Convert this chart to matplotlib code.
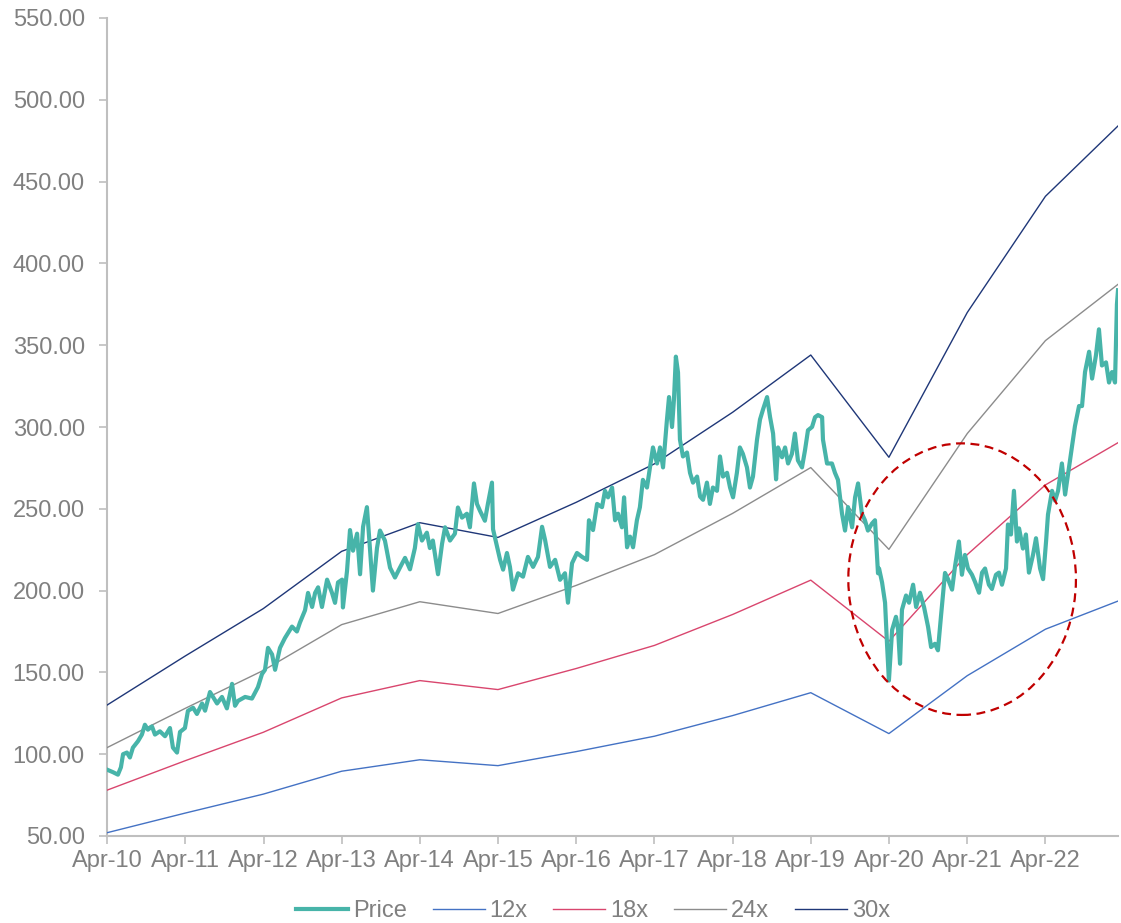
import numpy as np
import pandas as pd
import matplotlib
matplotlib.use("Agg")
import matplotlib.pyplot as plt
import matplotlib.dates as mdates
from matplotlib.patches import Ellipse

# ---------------- data ----------------
# months after 1 Apr 2010 / price values
price_months = [0.1, 0.92, 1.69, 2.15, 2.46, 3.07, 3.53, 3.99, 4.76, 5.37, 5.83, 6.29, 6.91, 7.37,
    8.13, 8.9, 9.67, 10.13, 10.74, 11.2, 11.97, 12.43, 13.2, 13.81, 14.58, 15.04, 15.81, 16.27,
    16.88, 17.65, 18.41, 19.18, 19.64, 20.1, 21.18, 22.25, 23.17, 23.78, 24.24, 24.7, 25.32,
    25.78, 26.54, 27.31, 28.38, 29.15, 29.61, 30.38, 30.84, 31.46, 31.92, 32.38, 32.99, 33.76,
    34.53, 34.99, 35.45, 36.06,
    36.21, 36.83, 37.29, 37.75, 38.36, 38.82, 39.28, 39.9, 40.36, 40.82, 41.43, 41.89, 42.66,
    43.43, 44.19, 44.96, 45.73, 46.5, 47.26, 47.72, 48.34, 49.1, 49.56, 50.02, 50.79, 51.41,
    51.87, 52.63, 53.4, 53.86, 54.47, 55.24, 55.7, 56.32, 56.78, 57.24, 58.0, 58.46, 59.08,
    59.23, 59.85, 60.31, 60.77, 61.38, 61.84, 62.3, 63.07, 63.84, 64.6, 65.37, 66.14, 66.75,
    67.21, 67.98, 68.75, 69.51, 70.28, 70.74, 71.35, 72.12, 72.89, 73.66, 73.96, 74.58, 75.19,
    75.96, 76.42, 76.88,
    77.49, 77.95, 78.41, 79.03, 79.33, 79.79, 80.25, 80.71, 81.33, 81.79, 82.25, 82.86, 83.32,
    83.78, 84.4, 84.86, 85.32, 85.93, 86.24, 86.7, 87.01, 87.31, 87.62, 87.93, 88.39, 89.0,
    89.46, 89.92, 90.54, 91.0, 91.46, 92.07, 92.53, 92.99, 93.6, 94.06, 94.53, 95.14, 95.6,
    96.06, 96.67, 97.13, 97.59, 98.21, 98.67, 99.13, 99.74, 100.2, 100.66, 101.28, 101.74,
    102.2, 102.66, 102.96, 103.58, 104.04, 104.5, 105.11, 105.57, 106.03, 106.65, 107.11,
    107.57, 108.18, 108.64, 109.1, 109.72, 109.87, 110.48, 111.25, 111.71, 112.17, 112.79,
    113.25, 113.71, 114.32, 114.78, 115.24, 115.85, 116.32, 116.78, 117.39, 117.85, 118.31,
    118.46, 118.92, 119.38, 119.69, 120.0, 120.46, 121.07, 121.38, 121.69, 121.99, 122.61,
    123.07, 123.68, 124.14, 124.75, 125.37, 125.98, 126.44, 127.06, 127.52, 127.98, 128.59,
    129.05, 129.67, 130.13, 130.74, 131.2, 131.66, 132.12, 132.73, 133.19, 133.81, 134.27,
    134.73, 135.34, 135.8, 136.42, 136.88, 137.34, 137.95, 138.26, 138.72, 139.18, 139.64,
    139.95, 140.56, 141.02, 141.48, 142.09, 142.56, 143.17, 143.63, 144.09, 144.4, 145.01,
    145.47, 145.93, 146.54, 147.01, 147.47, 148.08, 148.54, 149.15, 149.61, 150.07, 150.69,
    151.15, 151.76, 152.22, 152.68, 153.3, 153.76, 154.22, 154.68, 154.98, 155.13]

price_values = [90.4, 89, 87.5, 92, 100, 101, 98, 104, 108, 112, 118, 115, 117, 112,
    114, 111, 116, 104, 101, 113.6, 116, 126.5, 128.4, 124.6, 131, 126.6, 138, 135,
    131, 135, 128, 143, 129.6, 132.6, 135, 134, 141, 149, 151.6, 165, 161,
    151.6, 165, 171, 178, 175, 180.4, 188, 198.6, 190, 198.6, 202, 190, 206.7,
    198.6, 192.5, 205, 206.7,
    189.7, 212, 237, 224.4, 234.8, 210, 239, 251, 226, 200, 226, 236.7, 230.6,
    214, 208, 214, 220, 213, 226, 240.6, 230.6, 235.4, 226, 230.6, 210, 228.7,
    238.7, 230.6, 234.8, 250.8, 244.6, 247, 238.7, 265.5, 253, 248.8, 242.7, 253, 266,
    237.5, 226.8, 218.8, 212.8, 223, 214.5, 200.6, 210.6, 208.5, 220.6, 214.5, 220.6, 239,
    231, 214.5, 218.8, 206.6, 210.6, 192.6, 216.7, 223, 220.6, 218.8, 243, 237, 253,
    251, 261, 257,
    263, 243, 247, 238.7, 257, 226.5, 233, 226.5, 243, 251, 267.7, 263, 275.3,
    287.5, 277.7, 287.5, 275.3, 304, 318.3, 300, 316.7, 343, 333.3, 292.3, 282, 284.4,
    272, 266, 269.7, 257.5, 255.5, 266, 253, 263, 261, 282, 269.7, 272, 263,
    257, 272, 287.5, 283.6, 275.3, 263, 269.7, 292.3, 304.6, 310.7, 318.3, 306,
    296, 268, 287.5, 281.5, 287.5, 277.7, 283.6, 296, 279.6, 275.3, 285.7,
    298, 300, 306, 307.3, 306, 292.3, 277.7, 277.7, 272, 267.7, 247,
    236.7, 251, 238.7, 257, 265.5, 247, 243, 236.7, 241, 243, 210.6,
    213.5, 205, 192.6, 167.7, 145, 176, 184, 176, 155.3, 188.3, 197,
    192.6, 203.6, 190, 198.7, 190, 177.8, 165.5, 167.5, 163.5, 184, 210.8,
    207, 200.6, 215, 230, 209.7, 221.8, 213.6, 209.7, 205.4, 198.7, 211,
    213.5, 203.6, 201, 209.7, 211, 203.6, 213.5, 240.4, 234.3, 261, 230,
    238, 225.7, 234.3, 211, 221.8, 232, 213.5, 207, 230, 246.5, 261,
    255, 261, 277.7, 258.7, 271.6, 288, 300.6, 312.8, 312.8, 333.6, 346,
    329.6, 343.8, 359.7, 337.6, 339.5, 327.2, 333.6, 327.2, 375, 383.6]

# valuation bands (P/E multiples x EPS), knots each April plus the last date
band_months = [0, 12, 24, 36, 48, 60, 72, 84, 96, 108, 120, 132, 144, 155.13]
band_12x = [52.0, 64.0, 75.6, 89.6, 96.6, 93.0, 101.6, 111.0, 123.6, 137.6, 112.6, 148.0, 176.4, 193.6]
band_18x = [78.0, 96.0, 113.4, 134.4, 145.0, 139.5, 152.4, 166.5, 185.4, 206.4, 169.0, 222.0, 264.6, 290.4]
band_24x = [104.0, 128.0, 151.2, 179.2, 193.2, 186.0, 203.2, 222.0, 247.2, 275.2, 225.2, 296.0, 352.8, 387.2]
band_30x = [130.0, 160.0, 189.0, 224.0, 241.5, 232.5, 254.0, 277.5, 309.0, 344.0, 281.5, 370.0, 441.0, 484.0]

series_names = ["Price", "12x", "18x", "24x", "30x"]
y_ticks = [50, 100, 150, 200, 250, 300, 350, 400, 450, 500, 550]

# ---------------- helpers ----------------
base = np.datetime64("2010-04-01")
def to_dates(months):
    days = np.round(np.asarray(months) * 30.4375).astype("int64")
    return base + days.astype("timedelta64[D]")

price_dates = to_dates(price_months)
band_dates = to_dates(band_months)

FONT = ["Liberation Sans", "DejaVu Sans"]
plt.rcParams["font.family"] = FONT
GREY = "#808080"
AXIS = "#BFBFBF"

fig = plt.figure(figsize=(11.21, 9.23), dpi=100)
ax = fig.add_axes([107 / 1121, 1 - 836 / 923, (1118 - 107) / 1121, (836 - 18) / 923])

ax.plot(price_dates, price_values, color="#47B4A9", lw=3.0, solid_joinstyle="round",
        label=series_names[0], zorder=5)
ax.plot(band_dates, band_12x, color="#4472C4", lw=1.0, label=series_names[1], zorder=3)
ax.plot(band_dates, band_18x, color="#D9466E", lw=1.0, label=series_names[2], zorder=3)
ax.plot(band_dates, band_24x, color="#8C8C8C", lw=1.0, label=series_names[3], zorder=3)
ax.plot(band_dates, band_30x, color="#1F3778", lw=1.0, label=series_names[4], zorder=3)

# highlight ellipse around the 2020-21 period
ell_center = mdates.date2num(np.datetime64("2021-03-08"))
ell = Ellipse((ell_center, 207), width=1063, height=166, fill=False,
              edgecolor="#C00000", lw=1.6, ls=(0, (4, 2.5)), zorder=6)
ax.add_patch(ell)

ax.set_ylim(50, 550)
ax.set_xlim(base, price_dates[-1])
ax.set_yticks(y_ticks)
ax.set_yticklabels([f"{v:.2f}" for v in y_ticks])
ax.xaxis.set_major_locator(mdates.MonthLocator(bymonth=4))
ax.xaxis.set_major_formatter(mdates.DateFormatter("%b-%y"))

for s in ["top", "right"]:
    ax.spines[s].set_visible(False)
for s in ["left", "bottom"]:
    ax.spines[s].set_color(AXIS)
    ax.spines[s].set_linewidth(1.5)
ax.tick_params(axis="both", colors=AXIS, width=1.2, length=6, labelsize=17,
               labelcolor=GREY, direction="out")
ax.tick_params(axis="y", pad=10)
ax.tick_params(axis="x", pad=4)

leg = fig.legend(loc="center", bbox_to_anchor=(593 / 1121, 1 - 911 / 923), ncol=5,
                 frameon=False, fontsize=17, handlelength=2.2, handletextpad=0.2,
                 columnspacing=1.1, borderaxespad=0)
for t in leg.get_texts():
    t.set_color(GREY)

fig.savefig("out.png", dpi=100)
